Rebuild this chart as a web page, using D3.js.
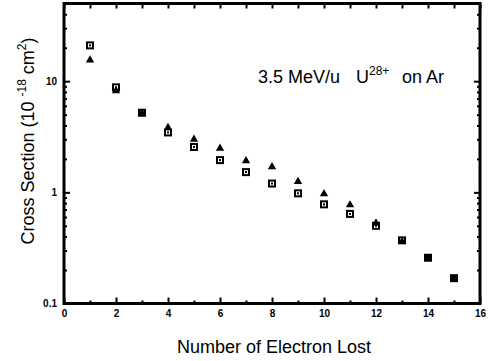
<!DOCTYPE html>
<html>
<head>
<meta charset="utf-8">
<script src="https://cdn.jsdelivr.net/npm/d3@7"></script>
<style>
  body { margin: 0; background: #fff; }
  text { font-family: "Liberation Sans", Arial, sans-serif; fill: #000; }
</style>
</head>
<body>
<div id="chart"></div>
<script>
// open squares (electrons lost vs cross section, 1e-18 cm^2)
const squareX = [1, 2, 3, 4, 5, 6, 7, 8, 9, 10, 11, 12, 13];
const squareVal = [21.0, 8.8, 5.2, 3.46, 2.56, 1.95, 1.52, 1.20, 0.98, 0.78, 0.64, 0.50, 0.37];
// filled triangles
const triX = [1, 2, 3, 4, 5, 6, 7, 8, 9, 10, 11, 12, 13];
const triVal = [15.5, 8.2, 5.17, 3.83, 3.0, 2.49, 1.92, 1.70, 1.25, 0.97, 0.77, 0.53, 0.36];
// solid squares where both coincide
const solidX = [14, 15];
const solidVal = [0.258, 0.169];

const xMajor = [0, 2, 4, 6, 8, 10, 12, 14, 16];
const xMinor = [1, 3, 5, 7, 9, 11, 13, 15];
const yMajor = [0.1, 1, 10];
const yMinor = [0.2, 0.3, 0.4, 0.5, 0.6, 0.7, 0.8, 0.9, 2, 3, 4, 5, 6, 7, 8, 9, 20, 30, 40];

const width = 491, height = 361;
const margin = {top: 3.5, right: 11, bottom: 57.5, left: 64};

const svg = d3.select("#chart").append("svg")
    .attr("width", width)
    .attr("height", height);

const x = d3.scaleLinear().domain([0, 16]).range([margin.left, width - margin.right]);
const y = d3.scaleLog().domain([0.1, 50]).range([height - margin.bottom, margin.top]);

const x0 = x.range()[0], x1 = x.range()[1];
const y0 = y.range()[0], y1 = y.range()[1];

function clean(g) {
    g.select(".domain").remove();
    g.selectAll(".tick line").attr("stroke", "#000").attr("stroke-width", 2);
    g.selectAll(".tick text")
        .style("font-family", "'Liberation Sans', Arial, sans-serif")
        .style("font-size", "10px")
        .style("font-weight", "bold");
}

// bottom axis
svg.append("g").attr("transform", `translate(0,${y0})`)
    .call(d3.axisBottom(x).tickValues(xMajor).tickSize(-6).tickPadding(6).tickFormat(d3.format("d")))
    .call(clean);
svg.append("g").attr("transform", `translate(0,${y0})`)
    .call(d3.axisBottom(x).tickValues(xMinor).tickSize(-3).tickFormat(""))
    .call(clean);
// top axis
svg.append("g").attr("transform", `translate(0,${y1})`)
    .call(d3.axisTop(x).tickValues(xMajor.concat(xMinor)).tickSize(-5).tickFormat(""))
    .call(clean);
// left axis
svg.append("g").attr("transform", `translate(${x0},0)`)
    .call(d3.axisLeft(y).tickValues(yMajor).tickSize(-6).tickPadding(7).tickFormat(d => d < 1 ? "0.1" : String(d)))
    .call(clean);
svg.append("g").attr("transform", `translate(${x0},0)`)
    .call(d3.axisLeft(y).tickValues(yMinor).tickSize(-3).tickFormat(""))
    .call(clean);
// right axis
svg.append("g").attr("transform", `translate(${x1},0)`)
    .call(d3.axisRight(y).tickValues(yMajor).tickSize(-6).tickFormat(""))
    .call(clean);
svg.append("g").attr("transform", `translate(${x1},0)`)
    .call(d3.axisRight(y).tickValues(yMinor).tickSize(-3).tickFormat(""))
    .call(clean);

// frame
svg.append("rect")
    .attr("x", x0).attr("y", y1)
    .attr("width", x1 - x0).attr("height", y0 - y1)
    .attr("fill", "none").attr("stroke", "#000").attr("stroke-width", 3);

// open squares with centre dot
const sq = svg.append("g");
sq.selectAll("rect.sq")
    .data(d3.zip(squareX, squareVal))
    .join("rect").attr("class", "sq")
    .attr("x", d => x(d[0]) - 3).attr("y", d => y(d[1]) - 3)
    .attr("width", 6).attr("height", 6)
    .attr("fill", "#fff").attr("stroke", "#000").attr("stroke-width", 2);
sq.selectAll("rect.dot")
    .data(d3.zip(squareX, squareVal))
    .join("rect").attr("class", "dot")
    .attr("x", d => x(d[0]) - 1).attr("y", d => y(d[1]) - 1)
    .attr("width", 2).attr("height", 2)
    .attr("fill", "#000");

// solid squares
svg.append("g").selectAll("rect")
    .data(d3.zip(solidX, solidVal))
    .join("rect")
    .attr("x", d => x(d[0]) - 4).attr("y", d => y(d[1]) - 4)
    .attr("width", 8).attr("height", 8)
    .attr("fill", "#000");

// triangles
svg.append("g").selectAll("path")
    .data(d3.zip(triX, triVal))
    .join("path")
    .attr("transform", d => `translate(${x(d[0])},${y(d[1])})`)
    .attr("d", d3.symbol(d3.symbolTriangle, 30))
    .attr("fill", "#000");

// title inside plot
const title = svg.append("text")
    .attr("y", 83)
    .style("font-size", "18px");
title.append("tspan").attr("x", 258).text("3.5 MeV/u");
title.append("tspan").attr("x", 356).text("U");
title.append("tspan").attr("x", 369).attr("dy", -8).style("font-size", "12px").text("28+");
title.append("tspan").attr("x", 402).attr("dy", 8).text("on Ar");

// x label
svg.append("text")
    .attr("x", 274).attr("y", 353)
    .attr("text-anchor", "middle")
    .style("font-size", "18px")
    .text("Number of Electron Lost");

// y label
const yl = svg.append("text")
    .attr("transform", "translate(34,141) rotate(-90)")
    .attr("text-anchor", "middle")
    .style("font-size", "18px")
    .style("white-space", "pre");
yl.append("tspan").text("Cross Section (10 ");
yl.append("tspan").attr("dy", -8).style("font-size", "12px").text("-18");
yl.append("tspan").attr("dy", 8).text(" cm");
yl.append("tspan").attr("dy", -8).style("font-size", "12px").text("2");
yl.append("tspan").attr("dy", 8).text(")");
</script>
</body>
</html>
